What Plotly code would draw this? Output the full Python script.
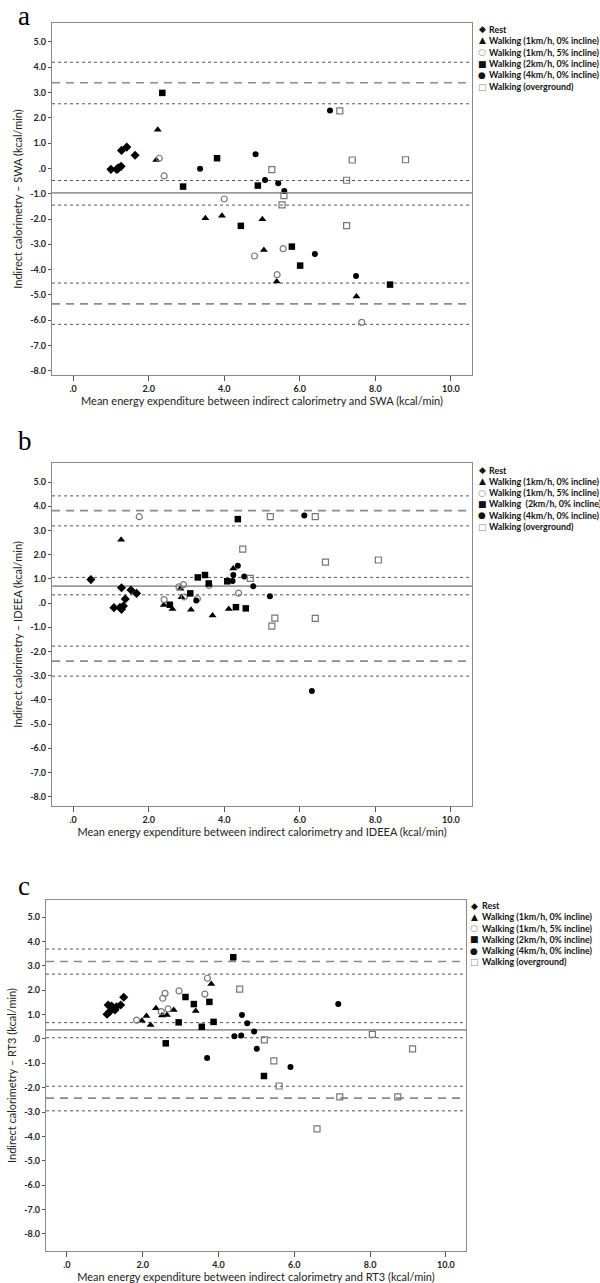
import plotly.graph_objects as go

# ---------------- data ----------------
x_tickvals = [0, 2, 4, 6, 8, 10]
x_ticktext = [".0", "2.0", "4.0", "6.0", "8.0", "10.0"]
y_tickvals = [5, 4, 3, 2, 1, 0, -1, -2, -3, -4, -5, -6, -7, -8]
y_ticktext = ["5.0", "4.0", "3.0", "2.0", "1.0", ".0", "-1.0", "-2.0", "-3.0",
              "-4.0", "-5.0", "-6.0", "-7.0", "-8.0"]

group_names = ["Rest", "Walking (1km/h, 0% incline)", "Walking (1km/h, 5% incline)",
               "Walking (2km/h, 0% incline)", "Walking (4km/h, 0% incline)",
               "Walking (overground)"]

# Panel a: SWA
a_rest_x = [1.00, 1.15, 1.20, 1.27, 1.28, 1.42, 1.64, 1.18]
a_rest_y = [-0.04, -0.04, 0.02, 0.08, 0.71, 0.84, 0.52, -0.02]
a_walk1_x = [2.24, 2.20, 3.50, 3.94, 5.01, 5.05, 5.39, 7.50]
a_walk1_y = [1.52, 0.33, -1.97, -1.87, -2.01, -3.22, -4.47, -5.06]
a_walk1i_x = [2.28, 2.41, 4.00, 4.80, 5.56, 5.40, 7.64]
a_walk1i_y = [0.40, -0.30, -1.21, -3.46, -3.17, -4.20, -6.08]
a_walk2_x = [2.36, 3.81, 2.91, 4.89, 4.44, 5.79, 6.01, 8.39]
a_walk2_y = [2.98, 0.40, -0.72, -0.68, -2.27, -3.09, -3.84, -4.59]
a_walk4_x = [3.36, 4.83, 5.08, 5.43, 5.59, 6.80, 6.40, 7.49]
a_walk4_y = [-0.02, 0.56, -0.46, -0.59, -0.89, 2.28, -3.38, -4.25]
a_over_x = [5.26, 5.58, 5.53, 7.06, 7.39, 8.80, 7.24, 7.24]
a_over_y = [-0.05, -1.08, -1.44, 2.27, 0.33, 0.34, -0.47, -2.26]
a_mean = [-0.97, -1.45, -0.48]       # mean, CI low, CI high
a_upper = [3.38, 2.55, 4.19]         # upper LoA, CI low, CI high
a_lower = [-5.35, -6.16, -4.53]      # lower LoA, CI low, CI high

# Panel b: IDEEA
b_rest_x = [0.47, 1.08, 1.24, 1.28, 1.33, 1.38, 1.28, 1.53, 1.68]
b_rest_y = [0.97, -0.19, -0.18, -0.26, -0.12, 0.17, 0.63, 0.54, 0.40]
b_walk1_x = [1.27, 2.40, 2.63, 2.84, 2.87, 3.12, 3.69, 4.12, 4.24]
b_walk1_y = [2.62, -0.08, -0.25, 0.59, 0.24, -0.28, -0.51, -0.25, 1.43]
b_walk1i_x = [1.75, 2.41, 2.80, 2.92, 2.94, 3.60, 3.29, 4.38]
b_walk1i_y = [3.57, 0.14, 0.67, 0.76, 0.25, 0.73, 0.18, 0.41]
b_walk2_x = [4.36, 2.56, 3.10, 3.30, 3.49, 3.59, 4.08, 4.31, 4.57]
b_walk2_y = [3.47, -0.07, 0.40, 1.06, 1.16, 0.81, 0.90, -0.17, -0.22]
b_walk4_x = [3.26, 4.22, 4.24, 4.36, 4.53, 4.77, 5.21, 6.12, 6.32]
b_walk4_y = [0.11, 0.91, 1.16, 1.54, 1.10, 0.69, 0.28, 3.62, -3.64]
b_over_x = [5.22, 6.41, 4.49, 4.69, 5.34, 5.26, 6.41, 6.68, 8.08]
b_over_y = [3.57, 3.57, 2.23, 1.02, -0.62, -0.95, -0.63, 1.69, 1.78]
b_mean = [0.70, 0.34, 1.06]
b_upper = [3.82, 3.19, 4.43]
b_lower = [-2.40, -3.02, -1.78]

# Panel c: RT3
c_rest_x = [1.50, 1.06, 1.13, 1.09, 1.22, 1.31, 1.42, 1.18, 1.27]
c_rest_y = [1.71, 1.01, 1.12, 1.39, 1.26, 1.32, 1.39, 1.35, 1.19]
c_walk1_x = [1.98, 2.10, 2.21, 2.35, 2.51, 2.64, 2.82, 3.40, 3.81]
c_walk1_y = [0.75, 0.94, 0.57, 1.26, 0.96, 0.98, 1.19, 1.15, 2.25]
c_walk1i_x = [1.84, 2.49, 2.53, 2.59, 2.67, 2.96, 3.64, 3.71]
c_walk1i_y = [0.77, 1.12, 1.67, 1.87, 1.23, 1.97, 1.84, 2.49]
c_walk2_x = [2.61, 2.95, 3.13, 3.35, 3.56, 3.76, 3.87, 4.39, 5.20]
c_walk2_y = [-0.18, 0.68, 1.72, 1.43, 0.50, 1.52, 0.70, 3.35, -1.52]
c_walk4_x = [3.70, 4.42, 4.60, 4.62, 4.76, 4.94, 5.01, 5.90, 7.16]
c_walk4_y = [-0.78, 0.11, 0.14, 0.98, 0.64, 0.31, -0.40, -1.15, 1.43]
c_over_x = [4.56, 5.21, 5.46, 5.60, 6.60, 8.06, 9.12, 7.20, 8.73]
c_over_y = [2.04, -0.04, -0.90, -1.93, -3.69, 0.19, -0.41, -2.38, -2.38]
c_mean = [0.37, 0.05, 0.67]
c_upper = [3.18, 2.66, 3.69]
c_lower = [-2.43, -2.95, -1.94]

# ---------------- styling ----------------
FONT = "Lato, 'Open Sans', 'DejaVu Sans', sans-serif"
GLYPH_FONT = "'DejaVu Sans', sans-serif"
OPEN_GRAY = "#777777"
marker_styles = [
    dict(symbol="diamond", size=7, color="black"),
    dict(symbol="triangle-up", size=7, color="black"),
    dict(symbol="circle-open", size=6, color=OPEN_GRAY, line=dict(width=1.2, color=OPEN_GRAY)),
    dict(symbol="square", size=6.5, color="black"),
    dict(symbol="circle", size=6, color="black"),
    dict(symbol="square-open", size=6, color=OPEN_GRAY, line=dict(width=1.2, color=OPEN_GRAY)),
]
legend_glyphs = ["\u25c6", "\u25b2", "\u25cb", "\u25a0", "\u25cf", "\u25a1"]
legend_glyph_colors = ["#111111", "#111111", "#888888", "#111111", "#111111", "#888888"]

H = 1283.0
W = 600.0
panels = [
    dict(letter="a", device="SWA", sfx="", xdom=[52 / W, 472 / W], ypx=[23, 375],
         xr=[-0.56, 10.56], yr=[-8.16, 5.74],
         groups=[(a_rest_x, a_rest_y), (a_walk1_x, a_walk1_y), (a_walk1i_x, a_walk1i_y),
                 (a_walk2_x, a_walk2_y), (a_walk4_x, a_walk4_y), (a_over_x, a_over_y)],
         lines=[a_mean, a_upper, a_lower], glx=482, ltx=487, ly0=29, lstep=11.5,
         letter_top=0, walk2_sp=False),
    dict(letter="b", device="IDEEA", sfx="2", xdom=[52 / W, 472 / W], ypx=[463, 806],
         xr=[-0.56, 10.56], yr=[-8.39, 5.79],
         groups=[(b_rest_x, b_rest_y), (b_walk1_x, b_walk1_y), (b_walk1i_x, b_walk1i_y),
                 (b_walk2_x, b_walk2_y), (b_walk4_x, b_walk4_y), (b_over_x, b_over_y)],
         lines=[b_mean, b_upper, b_lower], glx=482, ltx=487, ly0=470, lstep=11.3,
         letter_top=425, walk2_sp=True),
    dict(letter="c", device="RT3", sfx="3", xdom=[46 / W, 466 / W], ypx=[900, 1251],
         xr=[-0.55, 10.53], yr=[-8.70, 5.70],
         groups=[(c_rest_x, c_rest_y), (c_walk1_x, c_walk1_y), (c_walk1i_x, c_walk1i_y),
                 (c_walk2_x, c_walk2_y), (c_walk4_x, c_walk4_y), (c_over_x, c_over_y)],
         lines=[c_mean, c_upper, c_lower], glx=474, ltx=480, ly0=905.5, lstep=11.3,
         letter_top=870, walk2_sp=False),
]

fig = go.Figure()
layout = dict(
    width=600, height=1283, margin=dict(l=0, r=0, t=0, b=0),
    paper_bgcolor="white", plot_bgcolor="white", showlegend=False,
    font=dict(family=FONT, color="#222222"),
)
shapes = []
annotations = []

for p in panels:
    sfx = p["sfx"]
    xa, ya = "x" + sfx, "y" + sfx
    ydom = [1 - p["ypx"][1] / H, 1 - p["ypx"][0] / H]
    axis_common = dict(showline=True, linecolor="#8a8a8a", linewidth=1.2, mirror=True,
                       showgrid=False, zeroline=False, ticks="outside", tickcolor="#555555",
                       tickfont=dict(family=FONT, size=9, color="#222222", weight="bold"))
    layout["xaxis" + sfx] = dict(axis_common, domain=p["xdom"], range=p["xr"], anchor=ya,
                                 tickvals=x_tickvals, ticktext=x_ticktext, ticklen=5,
                                 title=dict(text="Mean energy expenditure between indirect calorimetry and "
                                                 + p["device"] + " (kcal/min)",
                                            font=dict(family=FONT, size=11, color="#222222"),
                                            standoff=2))
    layout["yaxis" + sfx] = dict(axis_common, domain=ydom, range=p["yr"], anchor=xa,
                                 tickvals=y_tickvals, ticktext=y_ticktext, ticklen=3,
                                 title=dict(text="Indirect calorimetry \u2013 " + p["device"] + " (kcal/min)",
                                            font=dict(family=FONT, size=11, color="#222222"),
                                            standoff=5))
    for (gx, gy), ms, name in zip(p["groups"], marker_styles, group_names):
        fig.add_trace(go.Scatter(x=gx, y=gy, mode="markers", name=name, xaxis=xa, yaxis=ya,
                                 marker=ms, cliponaxis=False))
    mean, upper, lower = p["lines"]
    line_defs = [
        (mean[0], dict(color="#9a9a9a", width=1.6, dash="solid")),
        (mean[1], dict(color="#555555", width=1, dash="dot")),
        (mean[2], dict(color="#555555", width=1, dash="dot")),
        (upper[0], dict(color="#8a8a8a", width=1.6, dash="8px,6px")),
        (upper[1], dict(color="#555555", width=1, dash="dot")),
        (upper[2], dict(color="#555555", width=1, dash="dot")),
        (lower[0], dict(color="#8a8a8a", width=1.6, dash="8px,6px")),
        (lower[1], dict(color="#555555", width=1, dash="dot")),
        (lower[2], dict(color="#555555", width=1, dash="dot")),
    ]
    for yv, ln in line_defs:
        shapes.append(dict(type="line", xref=xa + " domain", x0=0, x1=1, yref=ya, y0=yv, y1=yv,
                           line=ln, layer="below"))
    # panel letter
    annotations.append(dict(text=p["letter"], xref="paper", yref="paper", x=17 / W,
                            y=1 - p["letter_top"] / H, xanchor="left", yanchor="top",
                            showarrow=False, borderpad=0,
                            font=dict(family="'Liberation Serif', 'DejaVu Serif', serif", size=27,
                                      color="black")))
    # legend block (one line per group)
    names = list(group_names)
    if p["walk2_sp"]:
        names[3] = "Walking \u00a0(2km/h, 0% incline)"
    for i, (g, gc, n) in enumerate(zip(legend_glyphs, legend_glyph_colors, names)):
        yy = 1 - (p["ly0"] + i * p["lstep"]) / H
        annotations.append(dict(text=g, xref="paper", yref="paper", x=p["glx"] / W, y=yy,
                                xanchor="center", yanchor="middle", showarrow=False,
                                font=dict(family=GLYPH_FONT, size=9, color=gc)))
        annotations.append(dict(text=n, xref="paper", yref="paper", x=p["ltx"] / W, y=yy,
                                xanchor="left", yanchor="middle", showarrow=False,
                                font=dict(family=FONT, size=8.9, color="#111111", weight="bold")))

layout["shapes"] = shapes
layout["annotations"] = annotations
fig.update_layout(**layout)
fig.write_html("out.html", config={"displayModeBar": False},
               post_script="document.body.style.margin='0px';document.body.style.padding='0px';")
